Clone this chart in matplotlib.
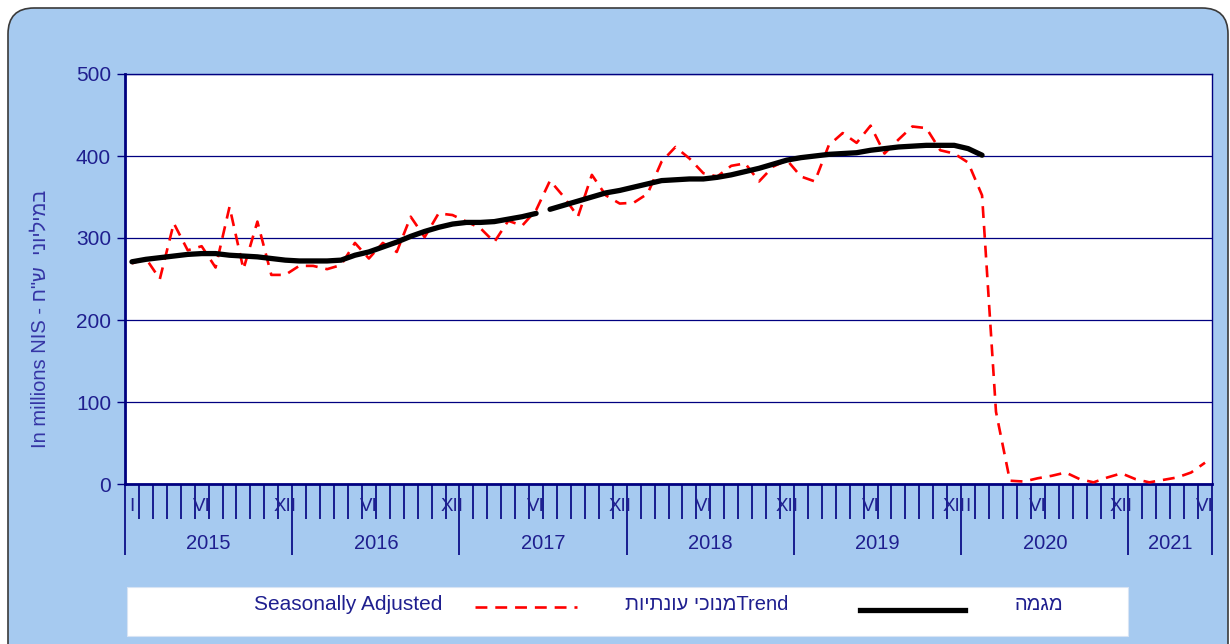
import numpy as np
import matplotlib.pyplot as plt
from matplotlib.patches import FancyBboxPatch, Rectangle
from matplotlib.lines import Line2D

plt.rcParams['font.family'] = ['Liberation Sans', 'DejaVu Sans']

YEARS = ['2015', '2016', '2017', '2018', '2019', '2020', '2021']

# seasonally adjusted, monthly Jan 2015 - Jun 2021 (millions NIS)
SEAS_ADJ = [
    269, 275, 250, 318, 285, 290, 264, 338, 262, 320, 255, 255,
    266, 266, 262, 267, 294, 275, 294, 283, 326, 301, 330, 328,
    320, 312, 295, 321, 315, 334, 370, 350, 326, 377, 352, 342,
    343, 354, 393, 411, 397, 379, 375, 388, 391, 369, 387, 395,
    375, 369, 413, 428, 416, 437, 403, 420, 436, 434, 407, 403,
    392, 352, 88, 4, 3, 7, 10, 14, 6, 2, 8, 13,
    6, 2, 5, 8, 14, 26,
]

# trend, Jan 2015 - Feb 2020
TREND = [
    271, 274, 276, 278, 280, 281, 281, 279, 278, 277, 275, 273,
    272, 272, 272, 273, 279, 283, 289, 295, 302, 308, 313, 317,
    319, 319, 320, 323, 326, 330, 335, 340, 345, 350, 355, 358,
    362, 366, 370, 371, 372, 372, 374, 377, 381, 385, 390, 395,
    398, 400, 402, 403, 404, 407, 409, 411, 412, 413, 413, 413,
    409, 401,
]
TREND_BREAK = 30  # trend line is broken between Jun and Jul 2017

MONTH_LABEL_IDX = [0, 5, 11, 17, 23, 29, 35, 41, 47, 53, 59, 60, 65, 71, 77]
MONTH_LABELS = ['I', 'VI', 'XII', 'VI', 'XII', 'VI', 'XII', 'VI', 'XII',
                'VI', 'XII', 'I', 'VI', 'XII', 'VI']

NAVY = '#000080'
TXT = '#1f1f8f'
BG = '#a6caf0'

W, H = 1230, 644


def fx(px):
    return px / W


def fy(py):
    return 1 - py / H


def main():

    fig = plt.figure(figsize=(12.3, 6.44), dpi=100)
    fig.patch.set_facecolor('white')

    # rounded blue panel
    panel = FancyBboxPatch((0.08, -0.4), 12.2, 6.76,
                           boxstyle='round,pad=0,rounding_size=0.26',
                           transform=fig.dpi_scale_trans,
                           facecolor=BG, edgecolor='#3a3a3a', linewidth=1.2,
                           zorder=-10)
    fig.patches.append(panel)

    ax = fig.add_axes([fx(125), fy(484), fx(1212) - fx(125), fy(74) - fy(484)])
    ax.set_facecolor('white')

    n = len(SEAS_ADJ)
    x = np.arange(n)
    xt = np.arange(len(TREND))

    ax.plot(x, SEAS_ADJ, color='#ff0000', lw=1.9, dashes=(4.5, 3.0), zorder=3)
    ax.plot(xt[:TREND_BREAK], TREND[:TREND_BREAK], color='black', lw=3.8,
            solid_capstyle='round', zorder=4)
    ax.plot(xt[TREND_BREAK:], TREND[TREND_BREAK:], color='black', lw=3.8,
            solid_capstyle='round', zorder=4)

    ax.set_xlim(-0.5, n - 0.5)
    ax.set_ylim(0, 500)
    ax.set_yticks([0, 100, 200, 300, 400, 500])
    ax.yaxis.grid(True, color=NAVY, lw=0.9)
    ax.set_axisbelow(True)
    ax.tick_params(axis='y', colors=NAVY, labelcolor=TXT, labelsize=15,
                   length=6, width=1, direction='out', pad=4)

    for s in ['left', 'bottom']:
        ax.spines[s].set_color(NAVY)
        ax.spines[s].set_linewidth(2)
    for s in ['top', 'right']:
        ax.spines[s].set_color(NAVY)
        ax.spines[s].set_linewidth(1)

    # month / year ticks below the axis
    ax.set_xticks(list(np.arange(0, n, 12) - 0.5) + [n - 0.5])
    ax.set_xticks(np.arange(0, n + 1) - 0.5, minor=True)
    ax.tick_params(axis='x', which='major', length=51, width=1.2,
                   colors=NAVY, labelbottom=False)
    ax.tick_params(axis='x', which='minor', length=25, width=1.2,
                   colors=NAVY, labelbottom=False)

    for i, lab in zip(MONTH_LABEL_IDX, MONTH_LABELS):
        ax.annotate(lab, (i, 0), xycoords=('data', 'axes fraction'),
                    xytext=(0, -16.5), textcoords='offset points',
                    ha='center', va='center', fontsize=13.5, color=TXT)
    for k, yr in enumerate(YEARS):
        a = 12 * k - 0.5
        b = min(12 * (k + 1), n) - 0.5
        ax.annotate(yr, ((a + b) / 2, 0), xycoords=('data', 'axes fraction'),
                    xytext=(0, -42.5), textcoords='offset points',
                    ha='center', va='center', fontsize=14.5, color=TXT)

    fig.text(fx(40), fy(319), 'In millions NIS - ח"ש  ינוילימב', rotation=90,
             ha='center', va='center', fontsize=14.5, color='#3535a5')

    # legend box
    fig.patches.append(Rectangle((fx(127), fy(636)), fx(1128) - fx(127),
                                 fy(587) - fy(636), transform=fig.transFigure,
                                 facecolor='white', edgecolor='#d8e4f4', lw=0.8,
                                 zorder=-5))
    fig.text(fx(442), fy(605), 'Seasonally Adjusted', ha='right', va='center',
             fontsize=15, color=TXT)
    fig.lines.append(Line2D([fx(475), fx(577)], [fy(607), fy(607)],
                            transform=fig.transFigure, color='#ff0000',
                            lw=1.9, dashes=(4.5, 3.0)))
    fig.text(fx(788), fy(605), 'תויתנוע יכונמTrend', ha='right', va='center',
             fontsize=14.5, color=TXT)
    fig.lines.append(Line2D([fx(860), fx(965)], [fy(610), fy(610)],
                            transform=fig.transFigure, color='black', lw=3.8))
    fig.text(fx(1015), fy(605), 'המגמ', ha='left', va='center',
             fontsize=14.5, color=TXT)

    fig.savefig('out.png', dpi=100, facecolor='white')


if __name__ == '__main__':
    main()
